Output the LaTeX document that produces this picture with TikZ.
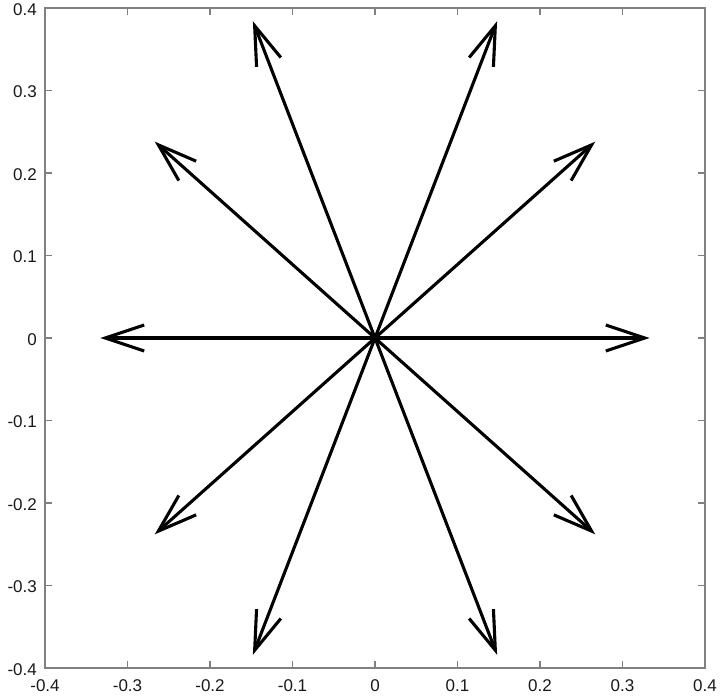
\documentclass[tikz,border=0pt]{standalone}
\usepackage{fontspec}
\setmainfont{Liberation Sans}
\usetikzlibrary{arrows.meta}
\begin{document}
\begin{tikzpicture}[x=825pt,y=825pt,
  axisline/.style={draw=black!50,line width=1.2pt},
  ticklbl/.style={font=\fontsize{17}{17}\selectfont,text=black!90,inner sep=0pt},
  vec/.style={line width=3.1pt,line cap=round,-{Straight Barb[length=39pt,width=26pt,line width=3.1pt]}}]
\useasboundingbox (-0.454545,0.409697) rectangle (0.418182,-0.433939);
% axes box
\draw[axisline] (-0.4,-0.4) rectangle (0.4,0.4);
\foreach \v/\l in {-0.4/-0.4,-0.3/-0.3,-0.2/-0.2,-0.1/-0.1,0/0,0.1/0.1,0.2/0.2,0.3/0.3,0.4/0.4}{
  \draw[axisline] (\v,-0.4) -- ++(0,7pt);
  \draw[axisline] (\v,0.4) -- ++(0,-7pt);
  \draw[axisline] (-0.4,\v) -- ++(7pt,0);
  \draw[axisline] (0.4,\v) -- ++(-7pt,0);
  \node[ticklbl,anchor=north] (xl\l) at ([yshift=-11pt]\v,-0.4) {\l};
  \node[ticklbl,anchor=east] (yl\l) at ([xshift=-8pt,yshift=-1.5pt]-0.4,\v) {\l};
}
% vectors
\coordinate (O) at (0,0);
\coordinate (E) at (0.333,0);
\coordinate (W) at (-0.333,0);
\coordinate (NNE) at (0.148,0.384);
\coordinate (NNW) at (-0.148,0.384);
\coordinate (SSE) at (0.148,-0.384);
\coordinate (SSW) at (-0.148,-0.384);
\coordinate (NE) at (0.267,0.238);
\coordinate (NW) at (-0.267,0.238);
\coordinate (SE) at (0.267,-0.238);
\coordinate (SW) at (-0.267,-0.238);
\foreach \t in {E,W,NNE,NNW,SSE,SSW,NE,NW,SE,SW}{
  \draw[vec] (O) -- (\t);
}
\end{tikzpicture}
\end{document}
